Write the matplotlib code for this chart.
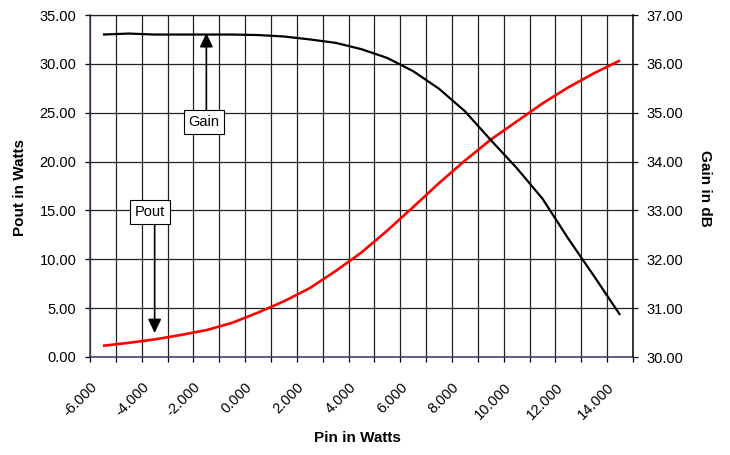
import numpy as np
import matplotlib
matplotlib.use('Agg')
import matplotlib.pyplot as plt

# ---------------- data ----------------
pin_dbm = [-6, -5, -4, -3, -2, -1, 0, 1, 2, 3, 4, 5, 6, 7, 8, 9, 10, 11, 12, 13, 14]
gain_db = [36.60, 36.62, 36.60, 36.60, 36.60, 36.60, 36.59, 36.56, 36.50, 36.43,
           36.30, 36.12, 35.85, 35.49, 35.03, 34.44, 33.87, 33.24, 32.42, 31.65, 30.86]
pout_w = [1.15, 1.45, 1.80, 2.25, 2.75, 3.50, 4.55, 5.70, 7.05, 8.80,
          10.70, 12.95, 15.35, 17.80, 20.10, 22.25, 24.10, 25.95, 27.60, 29.05, 30.35]
pout_ticks = [0, 5, 10, 15, 20, 25, 30, 35]
gain_ticks = [30, 31, 32, 33, 34, 35, 36, 37]

plt.rcParams['font.family'] = ['Liberation Sans', 'DejaVu Sans']
plt.rcParams['font.size'] = 10.5

W, H = 730, 455
fig = plt.figure(figsize=(W / 100, H / 100), dpi=100)
fig.patch.set_facecolor('white')
ax = fig.add_axes([90 / W, 1 - 357 / H, 543 / W, 342 / H])
ax2 = ax.twinx()

n = len(pin_dbm)
idx = np.arange(n)
ax.plot(idx, pout_w, color='#ff0000', lw=1.9, zorder=3, solid_capstyle='butt')
ax2.plot(idx, gain_db, color='black', lw=1.6, zorder=3, solid_capstyle='butt')

ax.set_xlim(-0.5, n - 0.5)
ax.set_ylim(pout_ticks[0], pout_ticks[-1])
ax2.set_ylim(gain_ticks[0], gain_ticks[-1])

ax.set_yticks(pout_ticks)
ax.set_yticklabels([f'{v:.2f}' for v in pout_ticks])
ax2.set_yticks(gain_ticks)
ax2.set_yticklabels([f'{v:.2f}' for v in gain_ticks])

bounds = np.arange(n + 1) - 0.5
ax.set_xticks(bounds)
xlabels = [f'{pin_dbm[k]:.3f}' if (k % 2 == 0 and k < n) else '' for k in range(n + 1)]
ax.set_xticklabels(xlabels, rotation=45, ha='right', rotation_mode='anchor')

grid_c = '#222222'
ax.grid(True, color=grid_c, lw=0.9, zorder=1)
ax.set_axisbelow(True)
ax2.grid(False)

axis_c = '#35356a'
for s in ['left', 'bottom']:
    ax.spines[s].set_color(axis_c)
    ax.spines[s].set_linewidth(1.1)
ax.spines['top'].set_color(grid_c)
ax.spines['top'].set_linewidth(0.9)
ax.spines['right'].set_visible(False)
for s in ['left', 'bottom', 'top']:
    ax2.spines[s].set_visible(False)
ax2.spines['right'].set_color('black')
ax2.spines['right'].set_linewidth(1.1)

ax.tick_params(axis='y', direction='out', length=3.6, width=0.9, pad=6.2, colors='black', labelsize=10.5)
ax.tick_params(axis='x', direction='out', length=3.6, width=0.9, pad=13, colors='black', labelsize=10.5)
ax2.tick_params(axis='y', direction='out', length=3.6, width=0.9, pad=5.8, colors='black', labelsize=10.5)

# annotations
arrow_style = '-|>,head_length=0.8,head_width=0.38'
ax2.annotate('', xy=(4, 36.63), xytext=(4, 35.04),
             arrowprops=dict(arrowstyle=arrow_style, color='black', lw=1.2,
                             shrinkA=0, shrinkB=0), zorder=5)
ax2.text(3.9, 34.81, 'Gain', ha='center', va='center', fontsize=10.5, zorder=6,
         bbox=dict(boxstyle='square,pad=0.32', fc='white', ec='black', lw=0.8))
ax2.annotate('', xy=(2, 2.45 / 5 + 30), xytext=(2, 13.7 / 5 + 30),
             arrowprops=dict(arrowstyle=arrow_style, color='black', lw=1.2,
                             shrinkA=0, shrinkB=0), zorder=5)
ax2.text(1.82, 14.84 / 5 + 30, 'Pout', ha='center', va='center', fontsize=10.5, zorder=6,
         bbox=dict(boxstyle='square,pad=0.32', fc='white', ec='black', lw=0.8))

fig.text(20 / W, 1 - 188 / H, 'Pout in Watts', rotation=90, ha='center', va='center',
         fontweight='bold', fontsize=11)
fig.text(705 / W, 1 - 188 / H, 'Gain in dB', rotation=270, ha='center', va='center',
         fontweight='bold', fontsize=11)
fig.text(357 / W, 1 - 438 / H, 'Pin in Watts', ha='center', va='center',
         fontweight='bold', fontsize=11)

fig.savefig('out.png', dpi=100, facecolor='white')
